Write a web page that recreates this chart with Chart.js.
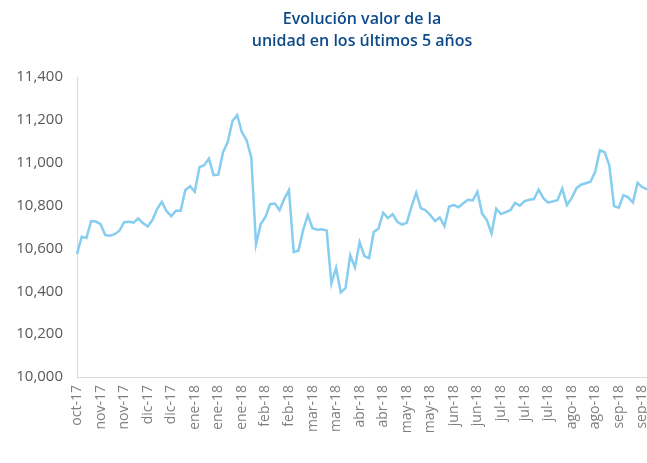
<!DOCTYPE html>
<html>
<head>
<meta charset="utf-8">
<script src="https://cdn.jsdelivr.net/npm/chart.js@4"></script>
<style>
  body { margin: 0; background: #fff; }
</style>
</head>
<body>
<canvas id="myChart" width="647" height="463"></canvas>
<script>
// tick labels shown every 5 points on the x axis
const tickLabels = [
  'oct-17', 'nov-17', 'nov-17', 'dic-17', 'dic-17', 'ene-18', 'ene-18', 'ene-18',
  'feb-18', 'feb-18', 'mar-18', 'mar-18', 'abr-18', 'abr-18', 'may-18', 'may-18',
  'jun-18', 'jun-18', 'jul-18', 'jul-18', 'jul-18', 'ago-18', 'ago-18', 'sep-18', 'sep-18'
];

// valor de la unidad
const values = [
  10574, 10655, 10649, 10728, 10726, 10714, 10663, 10660, 10667, 10683,
  10723, 10725, 10721, 10740, 10719, 10703, 10733, 10784, 10818, 10775,
  10751, 10776, 10776, 10873, 10891, 10865, 10980, 10989, 11020, 10943,
  10945, 11050, 11097, 11195, 11223, 11143, 11106, 11025, 10620, 10714,
  10748, 10807, 10810, 10779, 10832, 10873, 10583, 10590, 10686, 10756,
  10695, 10688, 10690, 10684, 10437, 10509, 10395, 10415, 10569, 10512,
  10630, 10565, 10555, 10677, 10694, 10767, 10742, 10761, 10725, 10712,
  10720, 10795, 10860, 10788, 10779, 10756, 10728, 10745, 10705, 10796,
  10803, 10793, 10811, 10828, 10825, 10865, 10763, 10733, 10670, 10786,
  10761, 10770, 10779, 10813, 10800, 10821, 10828, 10831, 10875, 10835,
  10814, 10820, 10826, 10880, 10803, 10835, 10881, 10898, 10905, 10912,
  10958, 11059, 11050, 10989, 10798, 10791, 10849, 10839, 10815, 10907,
  10887, 10876
];

const yMin = 10000;
const yMax = 11400;
const yStep = 200;

const labels = values.map(function (v, i) {
  return i % 5 === 0 ? tickLabels[i / 5] : '';
});

const data = {
  labels: labels,
  datasets: [{
    label: 'Valor de la unidad',
    data: values,
    borderColor: '#86cdf0',
    borderWidth: 2.5,
    pointRadius: 0,
    tension: 0,
    fill: false
  }]
};

const config = {
  type: 'line',
  data: data,
  options: {
    responsive: false,
    animation: false,
    layout: { padding: 0 },
    plugins: {
      legend: { display: false },
      tooltip: { enabled: false },
      title: {
        display: true,
        fullSize: false,
        text: ['Evolución valor de la', 'unidad en los últimos 5 años'],
        color: '#0d4a8a',
        font: { family: 'Open Sans', size: 16, weight: '600', lineHeight: 1.35 },
        padding: { top: 9, bottom: 25 }
      }
    },
    scales: {
      x: {
        grid: { display: false, drawTicks: false },
        border: { display: true, color: '#d9d9d9', width: 1 },
        ticks: {
          autoSkip: false,
          maxRotation: 90,
          minRotation: 90,
          padding: 8,
          color: '#7f7f7f',
          font: { family: 'Open Sans', size: 14 }
        },
        afterFit: function (scale) {
          scale.height = 86;
          scale.paddingLeft = 0;
          scale.paddingRight = 0;
        }
      },
      y: {
        min: yMin,
        max: yMax,
        grid: { display: false, drawTicks: false },
        border: { display: true, color: '#d9d9d9', width: 1 },
        ticks: {
          stepSize: yStep,
          padding: 14,
          color: '#595959',
          font: { family: 'Open Sans', size: 15 },
          callback: function (v) { return v.toLocaleString('en-US'); }
        },
        afterFit: function (scale) { scale.width = 77; }
      }
    }
  }
};

const myChart = new Chart(document.getElementById('myChart'), config);
</script>
</body>
</html>
